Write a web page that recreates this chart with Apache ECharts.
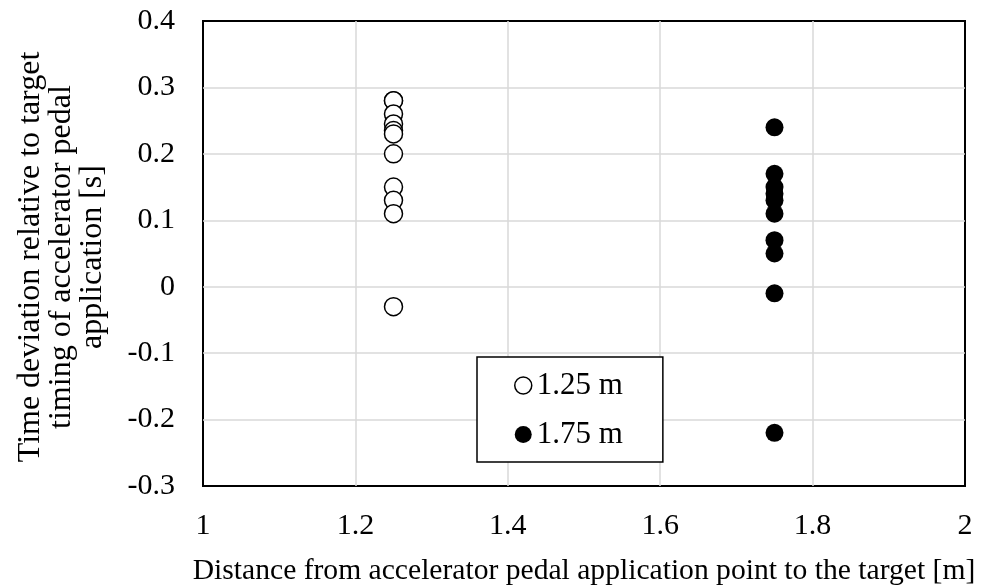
<!DOCTYPE html>
<html><head><meta charset="utf-8">
<script src="https://cdn.jsdelivr.net/npm/echarts@6/dist/echarts.min.js"></script>
<style>html,body{margin:0;padding:0;background:#fff}#c{width:991px;height:587px}</style>
</head><body><div id="c"></div>
<script>
var xTitle = 'Distance from accelerator pedal application point to the target [m]';
var yTitle = 'Time deviation relative to target\ntiming of accelerator pedal\napplication [s]';
var seriesNames = ['1.25 m', '1.75 m'];
var xPos125 = 1.25;
var xPos175 = 1.75;
var vals125 = [0.28, 0.28, 0.26, 0.245, 0.235, 0.23, 0.20, 0.15, 0.13, 0.11, -0.03];
var vals175 = [0.24, 0.17, 0.15, 0.14, 0.13, 0.11, 0.07, 0.05, -0.01, -0.22];

var FONT = '"Liberation Serif", "Times New Roman", serif';
var chart = echarts.init(document.getElementById('c'));
chart.setOption({
  animation: false,
  textStyle: {fontFamily: FONT},
  grid: {left: 203, right: 26, top: 21, bottom: 101, show: true, borderColor: '#000', borderWidth: 2, containLabel: false, outerBoundsMode: 'none'},
  xAxis: {
    type: 'value', min: 1, max: 2, interval: 0.2,
    axisLine: {show: false}, axisTick: {show: false},
    splitLine: {show: true, showMinLine: false, showMaxLine: false, lineStyle: {color: '#d9d9d9', width: 1.5}},
    axisLabel: {color: '#000', fontSize: 30, fontFamily: FONT, margin: 25,
      formatter: function(v){ var r = Math.round(v*10)/10; return r === Math.round(r) ? String(Math.round(r)) : r.toFixed(1); }},
    name: xTitle, nameLocation: 'middle', nameGap: 70,
    nameTextStyle: {color: '#000', fontSize: 29.6, fontFamily: FONT}
  },
  yAxis: {
    type: 'value', min: -0.3, max: 0.4, interval: 0.1,
    axisLine: {show: false}, axisTick: {show: false},
    splitLine: {show: true, showMinLine: false, showMaxLine: false, lineStyle: {color: '#d9d9d9', width: 1.5}},
    axisLabel: {color: '#000', fontSize: 30, fontFamily: FONT, margin: 28,
      formatter: function(v){ var r = Math.round(v*10)/10; return r === 0 ? '0' : r.toFixed(1); }}
  },
  graphic: [{
    type: 'text', x: 62, y: 257, rotation: Math.PI/2,
    style: {text: yTitle, font: '32px ' + FONT, fill: '#000', align: 'center', verticalAlign: 'middle', lineHeight: 31}
  }],
  legend: {
    orient: 'vertical', left: 477, top: 357,
    padding: [13, 40, 12, 37], itemGap: 18,
    itemWidth: 17, itemHeight: 17,
    borderColor: '#000', borderWidth: 1.5, backgroundColor: '#fff',
    textStyle: {color: '#000', fontSize: 31, fontFamily: FONT},
    data: [
      {name: seriesNames[0], icon: 'circle', itemStyle: {color: '#fff', borderColor: '#000', borderWidth: 1.5}},
      {name: seriesNames[1], icon: 'circle', itemStyle: {color: '#000', borderColor: '#000', borderWidth: 0}}
    ]
  },
  series: [
    {name: seriesNames[0], type: 'scatter', symbol: 'circle', symbolSize: 18,
      itemStyle: {color: '#fff', borderColor: '#000', borderWidth: 1.5, opacity: 1},
      data: vals125.map(function(v){ return [xPos125, v]; })},
    {name: seriesNames[1], type: 'scatter', symbol: 'circle', symbolSize: 18,
      itemStyle: {color: '#000', borderColor: '#000', borderWidth: 0, opacity: 1},
      data: vals175.map(function(v){ return [xPos175, v]; })}
  ]
});
</script></body></html>
